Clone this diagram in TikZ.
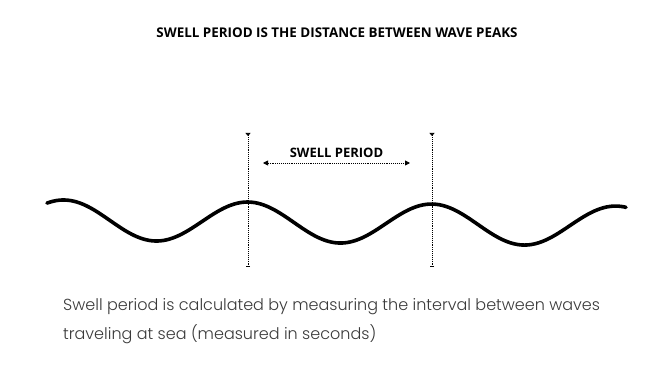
\documentclass[tikz,border=0pt]{standalone}
\usepackage{fontspec}
\setmainfont{Open Sans}
\newfontfamily\bodyfont{Poppins Light}
\usetikzlibrary{arrows.meta}
\definecolor{bodygray}{HTML}{3A3A3A}
\tikzset{
  titletext/.style={font=\bfseries\fontsize{13.4}{15}\selectfont, inner sep=0pt},
  labeltext/.style={font=\bfseries\fontsize{13}{15}\selectfont, inner sep=0pt},
  bodytext/.style={font=\bodyfont\fontsize{16}{29}\selectfont, text=bodygray, inner sep=0pt, align=left, anchor=north west},
  guide/.style={densely dotted, line width=0.9pt},
  wave/.style={line width=3.6pt, line cap=round},
}
\begin{document}
\begin{tikzpicture}[x=1pt,y=-1pt]
\useasboundingbox[fill=white] (0,0) rectangle (648,379);
\node[titletext] (title) at (337,33) {SWELL PERIOD IS THE DISTANCE BETWEEN WAVE PEAKS};
\node[labeltext] (label) at (336.5,153) {SWELL PERIOD};
% wave
\draw[wave] plot[domain=47:626, samples=240] (\x, {220+0.011*(\x-64)-20*cos(1.95652*(\x-64))});
% guide lines
\coordinate (g1top) at (248,133);
\coordinate (g1bot) at (248,267);
\coordinate (g2top) at (432,133);
\coordinate (g2bot) at (432,267);
\coordinate (aL) at (263,163);
\coordinate (aR) at (410,163);
\draw[guide, {Triangle[reversed,length=3pt,width=5pt]}-{Bar[width=4pt]}] (g1top) -- (g1bot);
\draw[guide, {Triangle[reversed,length=3pt,width=5pt]}-{Bar[width=4pt]}] (g2top) -- (g2bot);
\draw[guide, {Triangle[length=5pt,width=5pt]}-{Triangle[length=5pt,width=5pt]}] (aL) -- (aR);
\node[bodytext] (body) at (63,298) {Swell period is calculated by measuring the interval between waves\\traveling at sea (measured in seconds)};
\end{tikzpicture}
\end{document}
